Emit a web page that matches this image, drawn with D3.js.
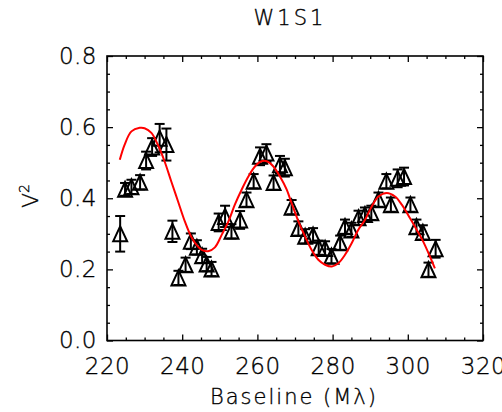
<!DOCTYPE html>
<html><head><meta charset="utf-8">
<script src="https://cdn.jsdelivr.net/npm/d3@7"></script>
<style>
html,body{margin:0;padding:0;background:#fff;}
text{font-family:"DejaVu Sans",sans-serif;font-weight:200;fill:#000;stroke:#000;stroke-width:0.35px;}
</style></head>
<body><svg id="c" width="502" height="412"></svg>
<script>
const title = "W1S1";
const xLabel = "Baseline (Mλ)";
const xTicks = [220, 240, 260, 280, 300, 320];
const yTicks = [0.0, 0.2, 0.4, 0.6, 0.8];
const baseline = [223.5,224.8,226.5,228.8,230.4,232.0,234.0,235.8,237.4,239.0,240.9,242.3,243.9,245.3,246.5,247.8,249.7,251.4,253.1,255.4,257.1,259.0,260.7,262.4,264.3,266.0,267.3,269.1,270.9,272.7,274.8,276.3,278.0,279.7,282.0,283.3,285.0,286.9,288.6,290.3,292.2,294.3,295.5,297.3,299.0,300.7,302.3,304.0,305.5,307.4];
const v2 = [0.300,0.425,0.432,0.445,0.506,0.544,0.569,0.551,0.307,0.176,0.213,0.279,0.262,0.238,0.215,0.201,0.332,0.349,0.307,0.339,0.396,0.448,0.518,0.527,0.444,0.494,0.486,0.375,0.315,0.293,0.296,0.261,0.259,0.237,0.275,0.320,0.311,0.345,0.354,0.359,0.396,0.448,0.382,0.456,0.461,0.382,0.320,0.304,0.199,0.258];
const v2err = [0.050,0.018,0.020,0.020,0.025,0.025,0.040,0.045,0.030,0.020,0.020,0.022,0.020,0.020,0.020,0.020,0.025,0.030,0.020,0.025,0.020,0.020,0.025,0.025,0.020,0.025,0.025,0.020,0.020,0.020,0.020,0.020,0.020,0.020,0.020,0.020,0.020,0.020,0.020,0.020,0.020,0.020,0.020,0.025,0.025,0.020,0.020,0.020,0.020,0.025];
const modelX = [223.4,224.7,226.5,228.7,230.0,231.8,233.5,235.3,237.1,238.9,240.7,242.4,244.2,245.2,246.9,248.7,250.5,252.3,254.0,255.8,257.6,259.4,261.1,262.5,264.2,266.0,267.8,269.1,270.9,272.7,274.4,276.2,278.0,279.8,281.5,283.3,285.1,286.8,288.6,290.4,292.2,294.4,296.6,298.4,300.6,302.4,304.1,305.9,307.2];
const modelY = [0.508,0.551,0.588,0.598,0.597,0.584,0.551,0.504,0.447,0.391,0.335,0.292,0.264,0.255,0.251,0.262,0.297,0.335,0.382,0.424,0.461,0.490,0.504,0.504,0.490,0.461,0.424,0.386,0.335,0.292,0.255,0.227,0.213,0.208,0.217,0.241,0.274,0.311,0.339,0.377,0.405,0.415,0.405,0.382,0.344,0.311,0.278,0.236,0.203];

const L = 107, R = 483, T = 56, B = 340.5;
const x = d3.scaleLinear().domain([220, 320]).range([L, R]);
const y = d3.scaleLinear().domain([0, 0.8]).range([B, T]);
const xMinor = d3.range(220, 320.01, 5).filter(v => v % 20 !== 0);
const yMinor = d3.range(0, 0.801, 0.05).filter(v => Math.abs(v*5 - Math.round(v*5)) > 1e-6);

const svg = d3.select("#c");
const FS = 23;

function styleAxis(g){
  g.select(".domain").remove();
  g.selectAll("line").attr("stroke","#000").attr("stroke-width",1.3);
  g.selectAll("text").attr("font-size",FS).attr("font-family","DejaVu Sans").attr("font-weight",200)
    .attr("fill","#000").attr("letter-spacing",0.5);
}
// bottom
svg.append("g").attr("transform",`translate(0,${B})`)
  .call(d3.axisBottom(x).tickValues(xTicks).tickFormat(d3.format("d")).tickSize(-6).tickPadding(17)).call(styleAxis);
svg.append("g").attr("transform",`translate(0,${B})`)
  .call(d3.axisBottom(x).tickValues(xMinor).tickFormat("").tickSize(-3)).call(styleAxis);
// top
svg.append("g").attr("transform",`translate(0,${T})`)
  .call(d3.axisTop(x).tickValues(xTicks).tickFormat("").tickSize(-6)).call(styleAxis);
svg.append("g").attr("transform",`translate(0,${T})`)
  .call(d3.axisTop(x).tickValues(xMinor).tickFormat("").tickSize(-3)).call(styleAxis);
// left
svg.append("g").attr("transform",`translate(${L},0)`)
  .call(d3.axisLeft(y).tickValues(yTicks).tickFormat(d3.format(".1f")).tickSize(-6).tickPadding(10)).call(styleAxis);
svg.append("g").attr("transform",`translate(${L},0)`)
  .call(d3.axisLeft(y).tickValues(yMinor).tickFormat("").tickSize(-3)).call(styleAxis);
// right
svg.append("g").attr("transform",`translate(${R},0)`)
  .call(d3.axisRight(y).tickValues(yTicks).tickFormat("").tickSize(-6)).call(styleAxis);
svg.append("g").attr("transform",`translate(${R},0)`)
  .call(d3.axisRight(y).tickValues(yMinor).tickFormat("").tickSize(-3)).call(styleAxis);

svg.append("rect").attr("x",L).attr("y",T).attr("width",R-L).attr("height",B-T)
  .attr("fill","none").attr("stroke","#000").attr("stroke-width",1.6);

// data
const pts = baseline.map((b,i)=>({x:b,y:v2[i],e:v2err[i]}));
const gp = svg.append("g").attr("stroke","#000").attr("stroke-width",2).attr("fill","none");
const cw = 5;
pts.forEach(p=>{
  const px = x(p.x), py = y(p.y), pt = y(p.y+p.e), pb = y(p.y-p.e);
  gp.append("line").attr("x1",px).attr("x2",px).attr("y1",pt).attr("y2",pb);
  gp.append("line").attr("x1",px-cw).attr("x2",px+cw).attr("y1",pt).attr("y2",pt);
  gp.append("line").attr("x1",px-cw).attr("x2",px+cw).attr("y1",pb).attr("y2",pb);
  gp.append("path").attr("d",`M${px-7},${py+7.5}L${px},${py-7.5}L${px+7},${py+7.5}Z`);
});

// model
svg.append("path").datum(modelX.map((v,i)=>[v,modelY[i]]))
  .attr("fill","none").attr("stroke","#ff0000").attr("stroke-width",2)
  .attr("d", d3.line().x(d=>x(d[0])).y(d=>y(d[1])).curve(d3.curveCatmullRom));

// labels
svg.append("text").attr("x",290).attr("y",25).attr("text-anchor","middle")
  .attr("font-size",21).attr("letter-spacing",3).text(title);
svg.append("text").attr("x",294).attr("y",404).attr("text-anchor","middle")
  .attr("font-size",21).attr("letter-spacing",2).text(xLabel);
svg.append("text").attr("transform","translate(38,196) rotate(-90)").attr("text-anchor","middle")
  .attr("font-size",22).html('V<tspan dy="-9" font-size="14">2</tspan>');
</script></body></html>
